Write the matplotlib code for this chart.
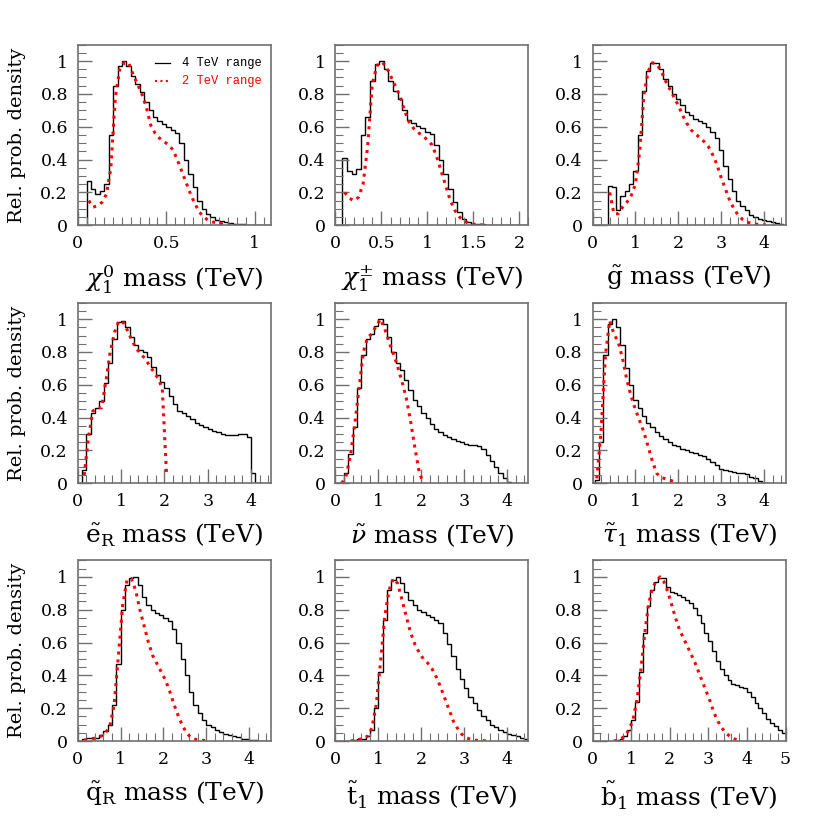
import numpy as np
import matplotlib
matplotlib.use("Agg")
import matplotlib.pyplot as plt
from matplotlib.ticker import MultipleLocator, FuncFormatter

plt.rcParams['font.family'] = ['DejaVu Serif']
plt.rcParams['mathtext.fontset'] = 'dejavuserif'

# ---------------- data (relative probability density per mass bin) ----------------
# chi0_1 : bins of 0.025 TeV starting at 0.05 TeV
chi0_lo, chi0_w = 0.05, 0.025
chi0_4tev = [0.27, 0.22, 0.19, 0.21, 0.25, 0.55, 0.85, 0.97, 1.0, 0.97, 0.91, 0.86, 0.81, 0.75,
             0.70, 0.66, 0.635, 0.615, 0.60, 0.58, 0.56, 0.50, 0.40, 0.31, 0.23, 0.15, 0.10, 0.07,
             0.05, 0.035, 0.025, 0.018, 0.012, 0.009, 0.006, 0.005, 0.004, 0.004, 0.003, 0.002,
             0.001, 0.0]
chi0_2tev = [0.15, 0.11, 0.12, 0.14, 0.19, 0.35, 0.78, 0.95, 0.99, 0.99, 0.92, 0.86, 0.80, 0.72,
             0.61, 0.56, 0.53, 0.51, 0.49, 0.46, 0.40, 0.33, 0.26, 0.19, 0.13, 0.08, 0.05, 0.03,
             0.02, 0.015, 0.01, 0.005, 0.002]

# chi+-_1 : bins of 0.05 TeV starting at 0.075 TeV
chipm_lo, chipm_w = 0.075, 0.05
chipm_4tev = [0.41, 0.33, 0.31, 0.34, 0.55, 0.66, 0.88, 0.98, 1.0, 0.95, 0.88, 0.82, 0.77, 0.70,
              0.64, 0.62, 0.605, 0.59, 0.57, 0.555, 0.49, 0.40, 0.31, 0.22, 0.14, 0.08, 0.04, 0.02,
              0.01, 0.007, 0.005, 0.004, 0.003, 0.003, 0.003, 0.002, 0.002, 0.001, 0.001, 0.0]
chipm_2tev = [0.20, 0.165, 0.15, 0.17, 0.25, 0.48, 0.86, 0.97, 0.995, 0.97, 0.91, 0.85, 0.79, 0.70,
              0.63, 0.59, 0.565, 0.545, 0.52, 0.49, 0.42, 0.33, 0.24, 0.15, 0.09, 0.05, 0.025,
              0.012, 0.007, 0.004, 0.002]

# gluino : bins of 0.1 TeV starting at 0.35 TeV
gl_lo, gl_w = 0.35, 0.1
gl_4tev = [0.24, 0.23, 0.09, 0.18, 0.21, 0.25, 0.33, 0.55, 0.82, 0.94, 0.99, 0.99, 0.95, 0.89,
           0.85, 0.80, 0.77, 0.73, 0.69, 0.67, 0.65, 0.635, 0.62, 0.60, 0.57, 0.53, 0.46, 0.36,
           0.28, 0.21, 0.15, 0.115, 0.09, 0.065, 0.05, 0.04, 0.03, 0.025, 0.018, 0.013, 0.01]
gl_2tev = [0.20, 0.07, 0.07, 0.11, 0.14, 0.18, 0.25, 0.45, 0.80, 0.94, 0.99, 0.98, 0.94, 0.88,
           0.83, 0.78, 0.73, 0.67, 0.62, 0.58, 0.555, 0.535, 0.51, 0.48, 0.43, 0.37, 0.29, 0.22,
           0.15, 0.10, 0.06, 0.035, 0.02, 0.012, 0.007, 0.004, 0.002, 0.001]

# selectron_R : bins of 0.1 TeV starting at 0.1 TeV
eR_lo, eR_w = 0.1, 0.1
eR_4tev = [0.08, 0.30, 0.43, 0.46, 0.50, 0.61, 0.73, 0.88, 0.98, 0.99, 0.95, 0.89, 0.84, 0.81,
           0.80, 0.77, 0.71, 0.66, 0.62, 0.58, 0.53, 0.48, 0.44, 0.43, 0.41, 0.39, 0.37, 0.355,
           0.345, 0.33, 0.32, 0.31, 0.30, 0.295, 0.295, 0.295, 0.30, 0.30, 0.28, 0.06, 0.0]
eR_2tev = [0.05, 0.28, 0.44, 0.46, 0.46, 0.62, 0.80, 0.92, 0.99, 0.98, 0.93, 0.87, 0.82, 0.79,
           0.76, 0.72, 0.68, 0.64, 0.58, 0.05]

# sneutrino : bins of 0.1 TeV starting at 0.1 TeV
snu_lo, snu_w = 0.1, 0.1
snu_4tev = [0.01, 0.06, 0.18, 0.34, 0.58, 0.78, 0.88, 0.91, 0.96, 1.0, 0.97, 0.89, 0.80, 0.73,
            0.69, 0.63, 0.57, 0.51, 0.47, 0.43, 0.40, 0.36, 0.33, 0.31, 0.295, 0.285, 0.27, 0.26,
            0.25, 0.24, 0.235, 0.235, 0.23, 0.21, 0.17, 0.135, 0.10, 0.065, 0.03, 0.005, 0.0]
snu_2tev = [0.0, 0.05, 0.17, 0.36, 0.58, 0.80, 0.89, 0.91, 0.96, 1.0, 0.94, 0.86, 0.79, 0.71,
            0.62, 0.52, 0.38, 0.22, 0.07, 0.0]

# stau_1 : bins of 0.1 TeV starting at 0.05 TeV
stau_lo, stau_w = 0.05, 0.1
stau_4tev = [0.02, 0.25, 0.78, 0.97, 1.0, 0.95, 0.84, 0.70, 0.60, 0.51, 0.46, 0.41, 0.37, 0.34,
             0.31, 0.29, 0.27, 0.25, 0.235, 0.225, 0.21, 0.20, 0.19, 0.185, 0.175, 0.165, 0.15,
             0.13, 0.11, 0.09, 0.08, 0.075, 0.07, 0.065, 0.06, 0.055, 0.04, 0.03, 0.015, 0.002, 0.0]
stau_2tev = [0.03, 0.32, 0.78, 0.99, 0.91, 0.86, 0.76, 0.63, 0.53, 0.45, 0.38, 0.31, 0.22, 0.13,
             0.06, 0.035, 0.028, 0.02, 0.01, 0.0]

# squark_R : bins of 0.1 TeV starting at 0.1 TeV
qR_lo, qR_w = 0.1, 0.1
qR_4tev = [0.01, 0.02, 0.02, 0.02, 0.035, 0.06, 0.10, 0.22, 0.47, 0.80, 0.95, 0.99, 1.0, 0.95,
           0.88, 0.83, 0.80, 0.78, 0.765, 0.75, 0.73, 0.68, 0.60, 0.50, 0.40, 0.30, 0.22, 0.17,
           0.13, 0.10, 0.085, 0.07, 0.055, 0.045, 0.035, 0.028, 0.022, 0.015, 0.01, 0.007, 0.005,
           0.003, 0.002, 0.001]
qR_2tev = [0.005, 0.01, 0.015, 0.02, 0.03, 0.05, 0.09, 0.22, 0.52, 0.83, 0.98, 0.99, 0.92, 0.80,
           0.70, 0.60, 0.52, 0.47, 0.42, 0.37, 0.30, 0.22, 0.15, 0.09, 0.045, 0.02, 0.01, 0.006,
           0.003, 0.002]

# stop_1 : bins of 0.1 TeV starting at 0.3 TeV
st_lo, st_w = 0.3, 0.1
st_4tev = [0.0, 0.005, 0.01, 0.015, 0.03, 0.07, 0.20, 0.42, 0.74, 0.92, 0.98, 1.0, 0.96, 0.91,
           0.86, 0.83, 0.80, 0.785, 0.77, 0.755, 0.74, 0.72, 0.66, 0.59, 0.52, 0.44, 0.38, 0.32,
           0.27, 0.23, 0.19, 0.155, 0.13, 0.10, 0.085, 0.07, 0.055, 0.045, 0.035, 0.03, 0.02, 0.015]
st_2tev = [0.0, 0.005, 0.01, 0.015, 0.03, 0.08, 0.22, 0.48, 0.76, 0.92, 0.99, 0.96, 0.86, 0.76,
           0.66, 0.59, 0.54, 0.50, 0.475, 0.44, 0.39, 0.33, 0.26, 0.19, 0.12, 0.075, 0.04, 0.02,
           0.01, 0.005, 0.003, 0.002, 0.001]

# sbottom_1 : bins of 0.1 TeV starting at 0.5 TeV
sb_lo, sb_w = 0.5, 0.1
sb_4tev = [0.0, 0.005, 0.01, 0.03, 0.07, 0.13, 0.24, 0.42, 0.66, 0.82, 0.92, 0.97, 0.995, 0.99,
           0.94, 0.91, 0.90, 0.89, 0.88, 0.86, 0.84, 0.81, 0.77, 0.72, 0.66, 0.61, 0.55, 0.49,
           0.44, 0.40, 0.37, 0.35, 0.34, 0.33, 0.32, 0.30, 0.27, 0.23, 0.20, 0.17, 0.135, 0.11,
           0.09, 0.07, 0.05]
sb_2tev = [0.0, 0.005, 0.015, 0.035, 0.07, 0.13, 0.25, 0.43, 0.65, 0.83, 0.93, 0.975, 1.0, 0.97,
           0.91, 0.83, 0.75, 0.68, 0.63, 0.58, 0.53, 0.48, 0.42, 0.36, 0.30, 0.24, 0.17, 0.12,
           0.08, 0.05, 0.03, 0.015, 0.007, 0.003]

xlabels = [r'$\chi^0_1$ mass (TeV)', r'$\chi^{\pm}_1$ mass (TeV)', r'$\tilde{\mathrm{g}}$ mass (TeV)',
           r'$\tilde{\mathrm{e}}_{\mathrm{R}}$ mass (TeV)', r'$\tilde{\nu}$ mass (TeV)',
           r'$\tilde{\tau}_1$ mass (TeV)',
           r'$\tilde{\mathrm{q}}_{\mathrm{R}}$ mass (TeV)', r'$\tilde{\mathrm{t}}_1$ mass (TeV)',
           r'$\tilde{\mathrm{b}}_1$ mass (TeV)']
xmax = [1.09, 2.1, 4.5, 4.45, 4.5, 4.5, 4.5, 4.5, 5.0]
xmajor = [0.5, 0.5, 1, 1, 1, 1, 1, 1, 1]
xminor = [0.05, 0.1, 0.2, 0.2, 0.2, 0.2, 0.2, 0.2, 0.2]
ylabel = 'Rel. prob. density'
legend_labels = ['4 TeV range', '2 TeV range']

panels = [
    (chi0_lo, chi0_w, chi0_4tev, chi0_2tev),
    (chipm_lo, chipm_w, chipm_4tev, chipm_2tev),
    (gl_lo, gl_w, gl_4tev, gl_2tev),
    (eR_lo, eR_w, eR_4tev, eR_2tev),
    (snu_lo, snu_w, snu_4tev, snu_2tev),
    (stau_lo, stau_w, stau_4tev, stau_2tev),
    (qR_lo, qR_w, qR_4tev, qR_2tev),
    (st_lo, st_w, st_4tev, st_2tev),
    (sb_lo, sb_w, sb_4tev, sb_2tev),
]

# ---------------- layout ----------------
fig = plt.figure(figsize=(8.3, 8.3), dpi=100)
col_left = [0.0936, 0.4042, 0.7139]
row_bottom = [0.7286, 0.4177, 0.1072]
w, h = 0.2325, 0.2176

fmt = FuncFormatter(lambda v, p: '%g' % round(v, 3))
frame_col = '#707070'
dotted = (0, (1.0, 1.6))

for i, (lo, wd, v4, v2) in enumerate(panels):
    r, c = divmod(i, 3)
    ax = fig.add_axes([col_left[c], row_bottom[r], w, h])
    e4 = lo + wd * np.arange(len(v4) + 1)
    c2 = lo + wd * (np.arange(len(v2)) + 0.5)
    ax.stairs(v4, e4, color='black', lw=1.0, baseline=0)
    ax.plot(c2, v2, color='red', lw=2.2, linestyle=dotted)
    ax.set_xlim(0, xmax[i])
    ax.set_ylim(0, 1.1)
    ax.xaxis.set_major_locator(MultipleLocator(xmajor[i]))
    ax.xaxis.set_minor_locator(MultipleLocator(xminor[i]))
    ax.yaxis.set_major_locator(MultipleLocator(0.2))
    ax.yaxis.set_minor_locator(MultipleLocator(0.05))
    ax.xaxis.set_major_formatter(fmt)
    ax.yaxis.set_major_formatter(fmt)
    ax.tick_params(which='both', direction='in', color=frame_col, top=False, right=False,
                   labelsize=12.5)
    ax.tick_params(which='major', length=10, width=1.0, pad=7)
    ax.tick_params(which='minor', length=6, width=0.8)
    for s in ax.spines.values():
        s.set_color(frame_col)
        s.set_linewidth(1.2)
    ax.set_xlabel(xlabels[i], fontsize=18)
    ax.xaxis.set_label_coords(0.5, -0.215)
    if c == 0:
        ax.set_ylabel(ylabel, fontsize=14)
        ax.yaxis.set_label_coords(-0.27, 0.5)
    if i == 0:
        ax.plot([0.40, 0.48], [0.90, 0.90], transform=ax.transAxes, color='black', lw=0.9)
        ax.plot([0.40, 0.48], [0.80, 0.80], transform=ax.transAxes, color='red', lw=1.5,
                linestyle=dotted)
        ax.text(0.54, 0.90, legend_labels[0], transform=ax.transAxes, va='center', ha='left',
                family='Liberation Mono', fontsize=8.7, color='black')
        ax.text(0.54, 0.80, legend_labels[1], transform=ax.transAxes, va='center', ha='left',
                family='Liberation Mono', fontsize=8.7, color='red')

fig.savefig('out.png', dpi=100)
